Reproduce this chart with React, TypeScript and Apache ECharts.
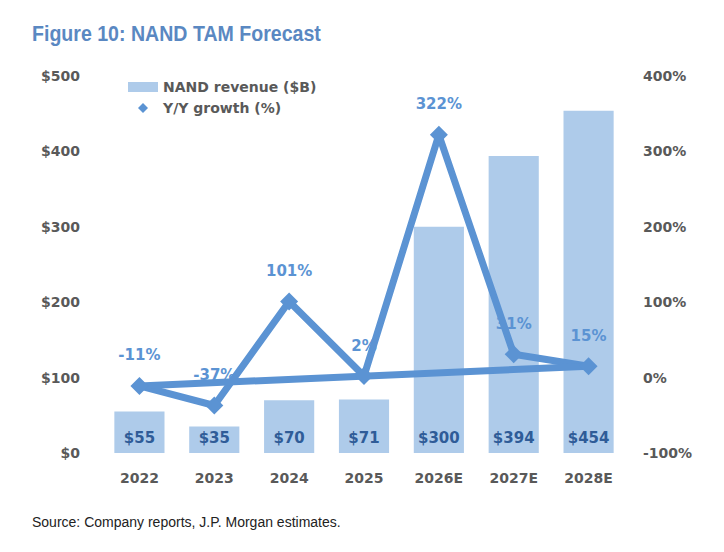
import React, { useEffect, useRef } from "react";
import * as echarts from "echarts";

const categories = ["2022", "2023", "2024", "2025", "2026E", "2027E", "2028E"];
const revenue = [55, 35, 70, 71, 300, 394, 454];
const growth = [-11, -37, 101, 2, 322, 31, 15];
const leftTicks = [0, 100, 200, 300, 400, 500];
const rightTicks = [-100, 0, 100, 200, 300, 400];

export default function App() {
  const ref = useRef<HTMLDivElement>(null);
  useEffect(() => {
    const chart = echarts.init(ref.current!, null, { renderer: "svg" });
    const closing = growth.map((v, i) => (i === 0 || i === growth.length - 1 ? v : null));
    const axisFont = { fontFamily: "DejaVu Sans", fontWeight: "bold" as const, fontSize: 14, color: "#595959" };
    chart.setOption({
      animation: false,
      backgroundColor: "#ffffff",
      graphic: [
        {
          type: "text",
          x: 24,
          y: 14,
          scaleX: 0.89,
          style: {
            text: "Figure 10: NAND TAM Forecast",
            fontFamily: "Liberation Sans",
            fontWeight: "bold",
            fontSize: 22,
            fill: "#5A88C2",
          },
        },
        {
          type: "text",
          left: 24,
          top: 507,
          style: { text: "Source: Company reports, J.P. Morgan estimates.", fontFamily: "Liberation Sans", fontSize: 14, fill: "#222222" },
        },
      ],
      legend: {
        orient: "vertical",
        left: 115,
        top: 67,
        itemGap: 7,
        itemWidth: 30,
        itemHeight: 10,
        symbolKeepAspect: true,
        textStyle: { fontFamily: "DejaVu Sans", fontWeight: "bold", fontSize: 14, color: "#595959" },
        data: [
          { name: "NAND revenue ($B)", icon: "rect" },
          {
            name: "Y/Y growth (%)",
            icon: "path://M5,0 L10,5 L5,10 L0,5 Z",
            itemStyle: { color: "#5B93D3" },
          },
        ],
      },
      grid: { left: 94, right: 90, top: 68, bottom: 91 },
      xAxis: {
        type: "category",
        data: categories,
        axisLine: { show: false },
        axisTick: { show: false },
        axisLabel: { ...axisFont, margin: 18 },
      },
      yAxis: [
        {
          type: "value",
          min: leftTicks[0],
          max: leftTicks[leftTicks.length - 1],
          interval: 100,
          splitLine: { show: false },
          axisLabel: { ...axisFont, margin: 22, formatter: (v: number) => "$" + v },
        },
        {
          type: "value",
          min: rightTicks[0],
          max: rightTicks[rightTicks.length - 1],
          interval: 100,
          splitLine: { show: false },
          axisLabel: { ...axisFont, margin: 17, formatter: (v: number) => v + "%" },
        },
      ],
      series: [
        {
          name: "NAND revenue ($B)",
          type: "bar",
          data: revenue,
          barWidth: "67%",
          itemStyle: { color: "#AECBEA" },
          label: {
            show: true,
            position: "insideBottom",
            distance: 8,
            formatter: (p: any) => "$" + p.value,
            fontFamily: "DejaVu Sans",
            fontWeight: "bold",
            fontSize: 15,
            color: "#2F5C98",
          },
        },
        {
          name: "Y/Y growth (%)",
          type: "line",
          yAxisIndex: 1,
          data: growth,
          symbol: "diamond",
          symbolSize: 18,
          lineStyle: { width: 7, color: "#5B93D3" },
          itemStyle: { color: "#5B93D3" },
          label: {
            show: true,
            position: "top",
            distance: 14,
            formatter: (p: any) => p.value + "%",
            fontFamily: "DejaVu Sans",
            fontWeight: "bold",
            fontSize: 15,
            color: "#5B93D3",
          },
          z: 3,
        },
        {
          name: "closing",
          type: "line",
          yAxisIndex: 1,
          data: closing,
          connectNulls: true,
          symbol: "none",
          lineStyle: { width: 7, color: "#5B93D3" },
          z: 3,
        },
      ],
    });
    return () => chart.dispose();
  }, []);
  return <div ref={ref} style={{ width: 708, height: 536 }} />;
}
